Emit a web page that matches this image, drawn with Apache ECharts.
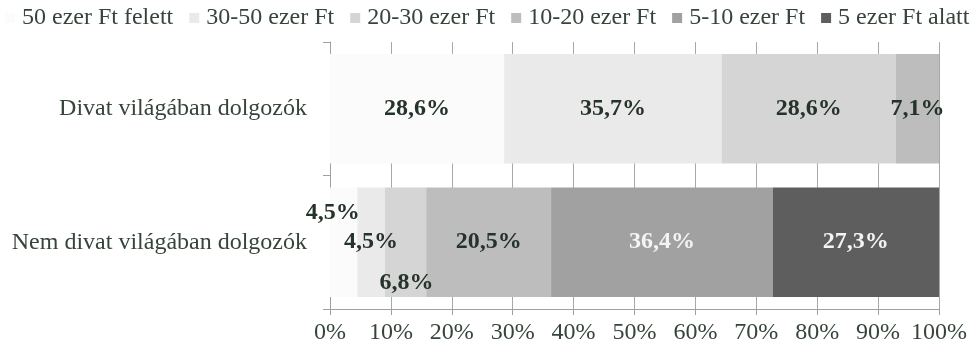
<!DOCTYPE html>
<html>
<head>
<meta charset="utf-8">
<script src="https://cdn.jsdelivr.net/npm/echarts@6/dist/echarts.min.js"></script>
<style>
  html, body { margin: 0; padding: 0; background: #ffffff; }
  #chart { width: 979px; height: 347px; }
</style>
</head>
<body>
<div id="chart"></div>
<script>
// Groups shown on the category axis (top to bottom)
const categories = ['Divat világában dolgozók', 'Nem divat világában dolgozók'];

// Income bands (legend order) and their shares in percent, one value per group
const seriesNames = ['50 ezer Ft felett', '30-50 ezer Ft', '20-30 ezer Ft', '10-20 ezer Ft', '5-10 ezer Ft', '5 ezer Ft alatt'];
const felett50 = [28.6, 4.5];
const between30_50 = [35.7, 4.5];
const between20_30 = [28.6, 6.8];
const between10_20 = [7.1, 20.5];
const between5_10 = [0, 36.4];
const alatt5 = [0, 27.3];

// Percent tick labels of the value axis
const tickValues = [0, 10, 20, 30, 40, 50, 60, 70, 80, 90, 100];

const seriesValues = [felett50, between30_50, between20_30, between10_20, between5_10, alatt5];
const colors = ['#fbfbfb', '#eaeaea', '#d5d5d5', '#bdbdbd', '#a1a1a1', '#5e5e5e'];
const labelColors = ['#25332a', '#25332a', '#25332a', '#25332a', '#f4f4f4', '#f4f4f4'];

const serif = '"Liberation Serif", "DejaVu Serif", serif';
const textColor = '#36443a';

const fmt = v => v.toFixed(1).replace('.', ',') + '%';

// Per-point label placement tweaks for the narrow segments of the second bar
const labelOffsets = {
  '0-1': [-11, -29],
  '2-1': [1, 41]
};

const series = seriesValues.map((vals, si) => ({
  name: seriesNames[si],
  type: 'bar',
  stack: 'total',
  barCategoryGap: '18%',
  itemStyle: { color: colors[si] },
  data: vals.map((v, ci) => {
    const off = labelOffsets[si + '-' + ci];
    const item = { value: v };
    if (v === 0) {
      item.label = { show: false };
    } else if (off) {
      item.label = { offset: off };
    }
    return item;
  }),
  label: {
    show: true,
    position: 'inside',
    formatter: p => fmt(p.value),
    fontFamily: serif,
    fontWeight: 'bold',
    fontSize: 24,
    color: labelColors[si]
  }
}));

const chart = echarts.init(document.getElementById('chart'), null, { renderer: 'canvas' });
chart.setOption({
  animation: false,
  backgroundColor: '#ffffff',
  color: colors,
  legend: {
    data: seriesNames,
    left: 5,
    top: 6,
    itemWidth: 10,
    itemHeight: 10,
    itemGap: 16,
    icon: 'rect',
    padding: 0,
    textStyle: { fontFamily: serif, fontSize: 24, color: textColor, padding: [0, 0, 0, 2] }
  },
  grid: { left: 330, right: 40, top: 42, bottom: 38 },
  xAxis: {
    type: 'value',
    min: tickValues[0],
    max: tickValues[tickValues.length - 1],
    interval: tickValues[1] - tickValues[0],
    axisLine: { show: true, lineStyle: { color: '#9aa39c', width: 1 } },
    axisTick: { show: true, length: 6, lineStyle: { color: '#9aa39c' } },
    splitLine: { show: true, lineStyle: { color: '#a3aba5', width: 1 } },
    axisLabel: {
      formatter: '{value}%',
      fontFamily: serif,
      fontSize: 24,
      color: textColor,
      margin: 12
    }
  },
  yAxis: {
    type: 'category',
    inverse: true,
    data: categories,
    axisLine: { show: true, lineStyle: { color: '#9aa39c', width: 1 } },
    axisTick: { show: true, length: 7, lineStyle: { color: '#9aa39c' } },
    axisLabel: {
      fontFamily: serif,
      fontSize: 24,
      color: textColor,
      margin: 23
    }
  },
  series: series
});
</script>
</body>
</html>
